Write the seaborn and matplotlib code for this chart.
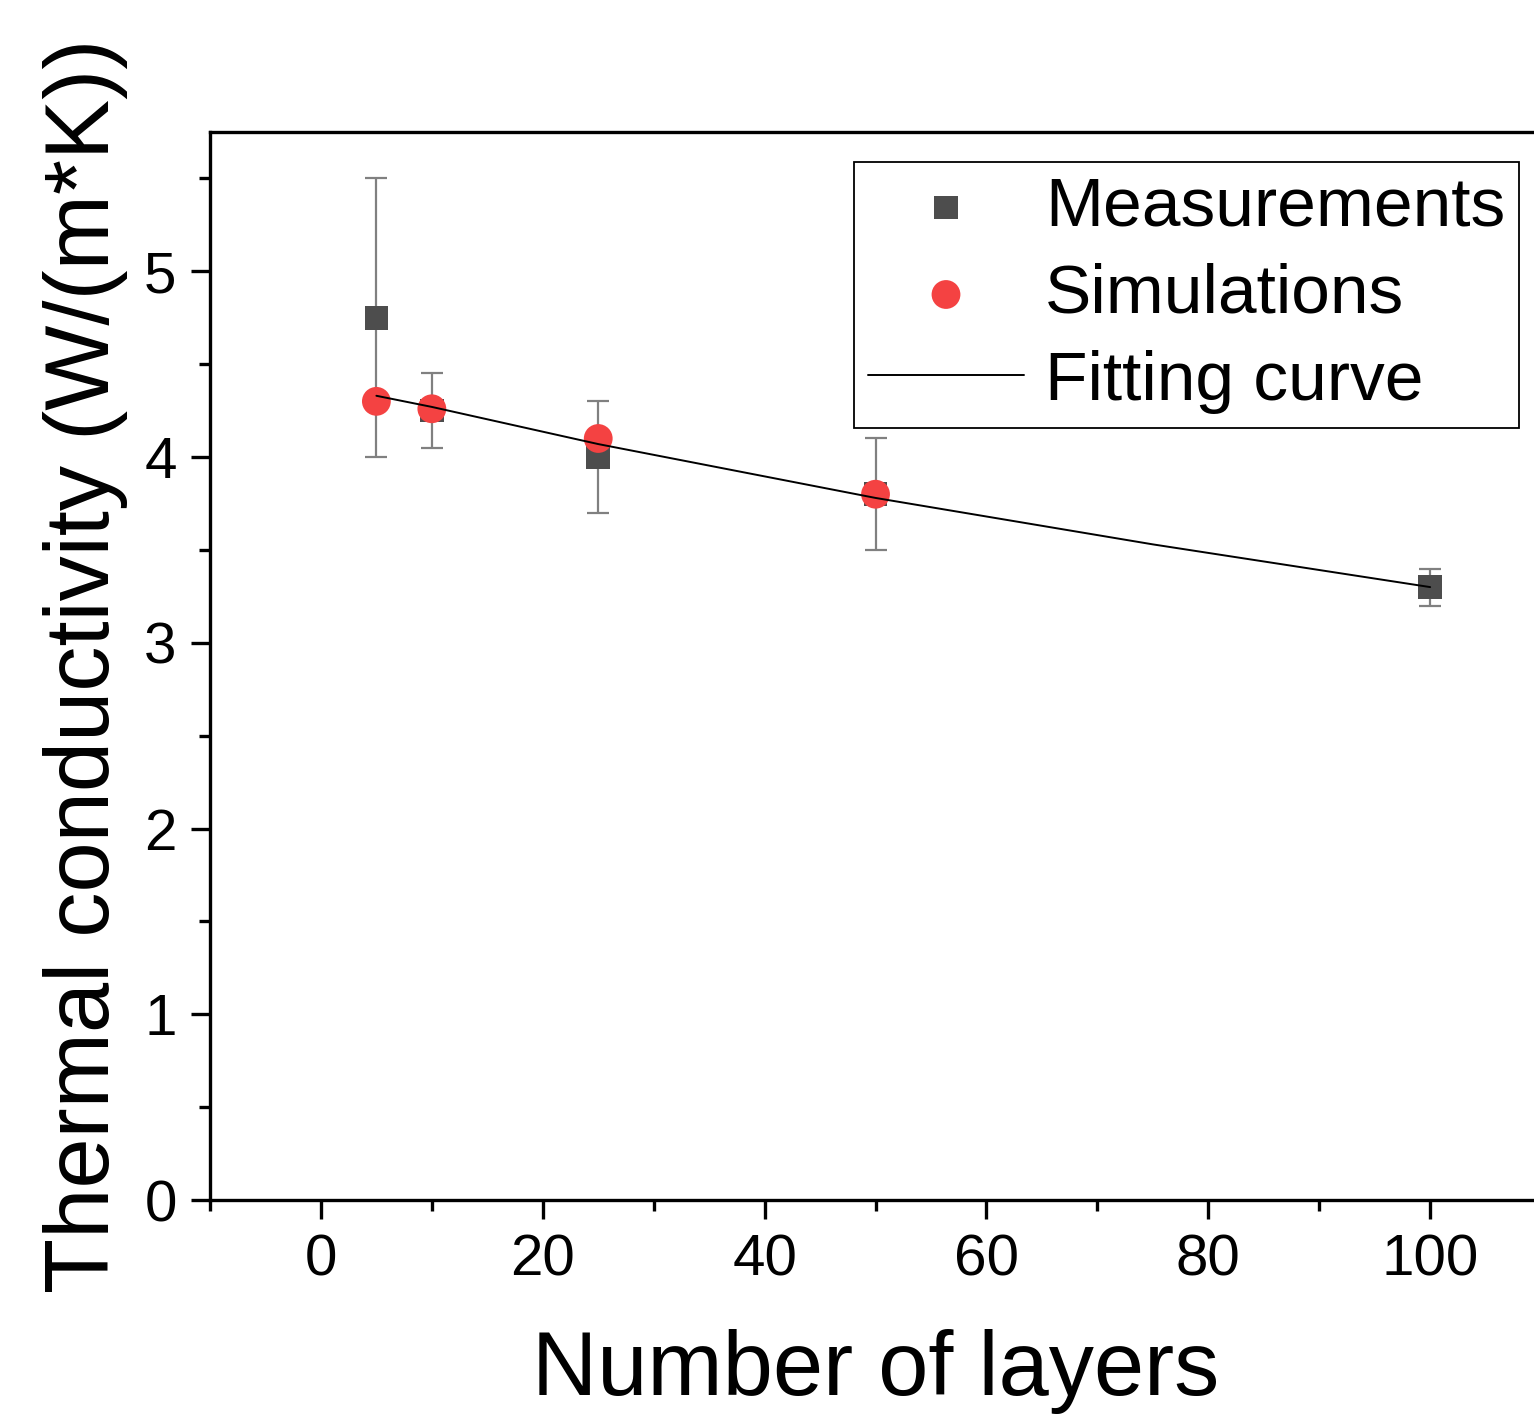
import matplotlib
matplotlib.use("Agg")
import matplotlib.pyplot as plt
from matplotlib.ticker import MultipleLocator
import pandas as pd
import seaborn as sns

# Data
meas_layers = [5, 10, 25, 50, 100]
meas_k = [4.75, 4.25, 4.0, 3.8, 3.3]
meas_err = [0.75, 0.2, 0.3, 0.3, 0.1]

sim_layers = [5, 10, 25, 50]
sim_k = [4.3, 4.26, 4.1, 3.8]

fit_layers = [5, 10, 25, 50, 75, 100]
fit_k = [4.33, 4.27, 4.07, 3.78, 3.53, 3.30]

sns.set_style("ticks")
plt.rcParams['font.family'] = ['Liberation Sans', 'DejaVu Sans']
plt.rcParams['text.color'] = 'black'
plt.rcParams['axes.labelcolor'] = 'black'
plt.rcParams['xtick.color'] = 'black'
plt.rcParams['ytick.color'] = 'black'

df_meas = pd.DataFrame({"layers": meas_layers, "k": meas_k, "err": meas_err})
df_sim = pd.DataFrame({"layers": sim_layers, "k": sim_k})
df_fit = pd.DataFrame({"layers": fit_layers, "k": fit_k})

fig = plt.figure(figsize=(15.34, 14.18), dpi=100)
ax = fig.add_axes([0.1369, 0.1537, 0.8677, 0.7532])

# error bars first, so markers sit on top
ax.errorbar(df_meas["layers"], df_meas["k"], yerr=df_meas["err"], fmt="none",
            ecolor="#808080", elinewidth=1.6, capsize=8, capthick=1.6, zorder=2)

sns.scatterplot(data=df_meas, x="layers", y="k", marker="s", s=290,
                color="#4d4d4d", edgecolor="none", ax=ax, zorder=3,
                label="Measurements")
sns.scatterplot(data=df_sim, x="layers", y="k", marker="o", s=430,
                color="#f44242", edgecolor="none", ax=ax, zorder=4,
                label="Simulations")
sns.lineplot(data=df_fit, x="layers", y="k", color="black", linewidth=1.4,
             ax=ax, zorder=5, label="Fitting curve")

ax.set_xlim(-10, 110)
ax.set_ylim(0, 5.75)
ax.xaxis.set_major_locator(MultipleLocator(20))
ax.xaxis.set_minor_locator(MultipleLocator(10))
ax.yaxis.set_major_locator(MultipleLocator(1))
ax.yaxis.set_minor_locator(MultipleLocator(0.5))

for s in ax.spines.values():
    s.set_linewidth(2.4)
    s.set_color("black")

ax.tick_params(which="major", length=14, width=2.4, labelsize=42, pad=10,
               direction="out")
ax.tick_params(which="minor", length=8, width=2.4, direction="out")

ax.set_xlabel("Number of layers", fontsize=65, labelpad=30)
ax.set_ylabel("Thermal conductivity (W/(m*K))", fontsize=65, labelpad=12)

leg = ax.legend(loc="upper right", bbox_to_anchor=(0.9835, 0.972), fontsize=50,
                frameon=True, fancybox=False, framealpha=1, edgecolor="black",
                handlelength=2.25, handletextpad=0.3, labelspacing=0.33,
                borderpad=0.2, borderaxespad=0)
leg.get_frame().set_linewidth(1.3)

fig.savefig("out.png", dpi=100)
